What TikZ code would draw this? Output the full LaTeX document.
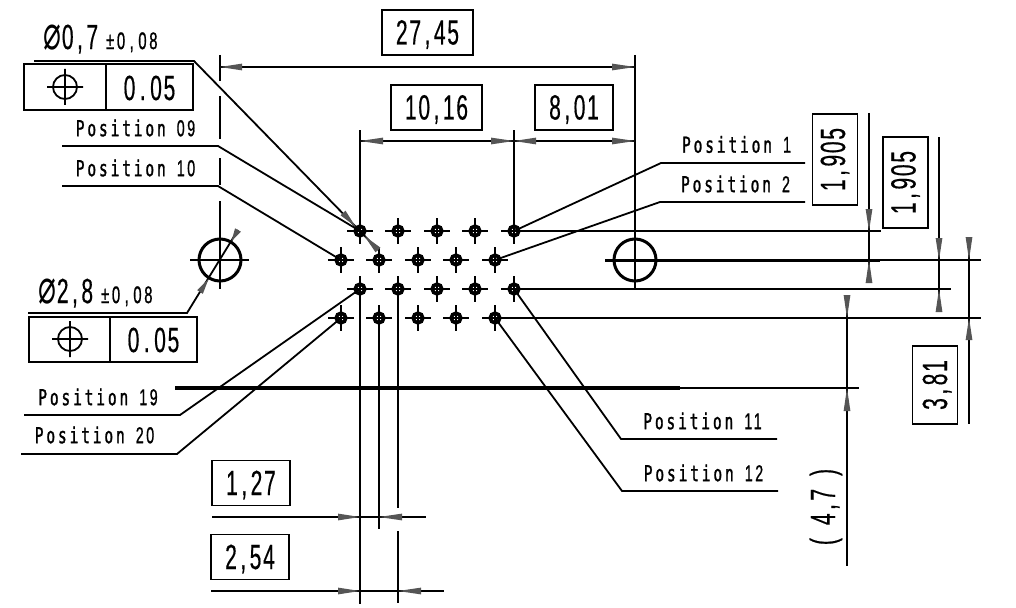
\documentclass[tikz,border=0pt]{standalone}
\usepackage{fontspec}
\usetikzlibrary{calc}
\setmainfont{Liberation Sans}
\newfontfamily\dimfont[FakeStretch=0.6,LetterSpace=5,FakeBold=0.4]{Liberation Sans}
\newfontfamily\monofnt[FakeStretch=0.66,LetterSpace=13,FakeBold=1.2]{DejaVu Sans Mono}
\newfontfamily\smfont[FakeStretch=0.62,LetterSpace=11,FakeBold=0.8]{Liberation Sans}
\newfontfamily\symfont[FakeStretch=0.62]{DejaVu Sans}
\newcommand\cmm{\hspace{3.5pt},\hspace{3.5pt}}
\newcommand\prd{\hspace{4.5pt}.\hspace{4.5pt}}
\newcommand\smcm{\hspace{2.5pt},\hspace{2.5pt}}
\newcommand\dimtxt[1]{{\dimfont\fontsize{35}{35}\selectfont #1}}
\newcommand\smtxt[1]{{\smfont\fontsize{23}{23}\selectfont #1}}
\newcommand\tolr{{\smfont\fontsize{24}{24}\selectfont ±0\hspace{4.5pt},\hspace{4.5pt}08}}
\newcommand\pos[1]{{\monofnt\fontsize{22}{22}\selectfont Position}\hspace{11pt}\smtxt{#1}}
\definecolor{tipgrey}{HTML}{555555}
\tikzset{
  x=1pt,y=-1pt,
  every node/.style={inner sep=0pt,outer sep=0pt},
  ln/.style={line width=1.8pt,black},
  framebox/.style={draw,line width=1.9pt,anchor=center,text height=24pt,text depth=0pt,align=center},
  dimbox/.style={framebox,minimum width=#1,minimum height=45pt},
  pinarm/.style={line width=1.7pt},
  pincirc/.style={line width=3.6pt},
}
\newcommand\wedgetip[2]{\fill[tipgrey] #1 -- ($#2!3.4pt!90:#1$) -- ($#2!3.4pt!-90:#1$) -- cycle;}
\newcommand\pin[3]{\coordinate (#1) at (#2,#3);
  \draw[pinarm] ($(#1)+(-13,0)$) -- ($(#1)+(13,0)$) ($(#1)+(0,-13)$) -- ($(#1)+(0,13)$);
  \draw[pincirc] (#1) circle[radius=4.8pt];}
\newcommand\possym[3]{\coordinate (#1) at (#2,#3);
  \draw[line width=1.8pt] (#1) circle[radius=12pt] ($(#1)+(-18,0)$) -- ($(#1)+(18,0)$) ($(#1)+(0,-18)$) -- ($(#1)+(0,18)$);}
\begin{document}
\begin{tikzpicture}
\useasboundingbox (0,0) rectangle (1016,607);
% datum lines
\draw[ln] (220,55) -- (220,81) (220,96) -- (220,139) (220,158) -- (220,185) (220,201) -- (220,289);
\draw[ln] (190,260) -- (249,260);
\draw[line width=3pt] (220,260) circle[radius=21pt];
\draw[ln] (635,55) -- (635,290);
\draw[line width=3pt] (635,260) circle[radius=21pt];
\draw[line width=3pt] (605,260) -- (880,260);
\draw[ln] (880,260) -- (981,260);
% extension lines
\draw[ln] (360,130) -- (360,231) (360,289) -- (360,604);
\draw[ln] (514,130) -- (514,231);
\draw[ln] (379,318) -- (379,529);
\draw[ln] (398,289) -- (398,508) (398,531) -- (398,603);
\draw[ln] (514,231) -- (881,231);
\draw[ln] (514,289) -- (951,289);
\draw[ln] (495,318) -- (981,318);
\draw[line width=3.2pt] (175,388) -- (680,388);
\draw[ln] (680,388) -- (859,388);
% pins
\foreach \n/\x/\y in {p1/360/231,p2/398/231,p3/437/231,p4/475/231,p5/514/231,
  q1/341/260,q2/379/260,q3/418/260,q4/456/260,q5/495/260,
  r1/360/289,r2/398/289,r3/437/289,r4/475/289,r5/514/289,
  s1/341/318,s2/379/318,s3/418/318,s4/456/318,s5/495/318}{\pin{\n}{\x}{\y}}
% horizontal dims
\draw[ln] (220,67) -- (635,67);
\wedgetip{(220,67)}{(242,67)} \wedgetip{(635,67)}{(612,67)}
\draw[ln] (360,141) -- (635,141);
\wedgetip{(360,141)}{(383,141)} \wedgetip{(514,141)}{(491,141)}
\wedgetip{(514,141)}{(536,141)} \wedgetip{(635,141)}{(612,141)}
\draw[ln] (212,517) -- (426,517);
\wedgetip{(360,517)}{(338,517)} \wedgetip{(379,517)}{(402,517)}
\draw[ln] (211,591) -- (444,591);
\wedgetip{(360,591)}{(338,591)} \wedgetip{(398,591)}{(421,591)}
% vertical dims
\draw[ln] (869,113) -- (869,283);
\wedgetip{(869,231)}{(869,209)} \wedgetip{(869,260)}{(869,283)}
\draw[ln] (939,137) -- (939,312);
\wedgetip{(939,260)}{(939,238)} \wedgetip{(939,289)}{(939,312)}
\draw[ln] (969,237) -- (969,424);
\wedgetip{(969,260)}{(969,237)} \wedgetip{(969,318)}{(969,340)}
\draw[ln] (847,295) -- (847,566);
\wedgetip{(847,318)}{(847,295)} \wedgetip{(847,388)}{(847,411)}
% dimension boxes
\node[dimbox=91pt] (d1) at (427.5,32.5) {\dimtxt{27\cmm 45}};
\node[dimbox=91pt] (d2) at (436.5,107.5) {\dimtxt{10\cmm 16}};
\node[dimbox=78pt] (d3) at (574,107.5) {\dimtxt{8\cmm 01}};
\node[dimbox=78pt] (d4) at (251,483) {\dimtxt{1\cmm 27}};
\node[dimbox=78pt] (d5) at (250,557) {\dimtxt{2\cmm 54}};
\node[dimbox=91pt,rotate=90] (d6) at (835,159.5) {\raisebox{2pt}{\dimtxt{1\cmm 905}}};
\node[dimbox=91pt,rotate=90] (d7) at (905.5,182.5) {\raisebox{2pt}{\dimtxt{1\cmm 905}}};
\node[dimbox=78pt,rotate=90] (d8) at (935,385) {\dimtxt{3\cmm 81}};
\node[rotate=90] (d9) at (826,507) {\dimtxt{(\hspace{13pt}4\cmm 7\hspace{13pt})}};
% tolerance frames
\draw[line width=1.9pt] (24,64) rectangle (193,110);
\draw[line width=1.9pt] (106,64) -- (106,110);
\possym{c1}{65}{87}
\node (t1) at (149.5,88) {\dimtxt{0\prd 05}};
\draw[line width=1.9pt] (29,317) rectangle (197,362);
\draw[line width=1.9pt] (110,317) -- (110,362);
\possym{c2}{70}{339}
\node (t2) at (153.5,340) {\dimtxt{0\prd 05}};
% leaders
\coordinate (a1) at (194,61); \coordinate (a2) at (343,213);
\draw[ln] (34,61) -- (a1) -- (p1);
\draw[ln] (p1) -- (378,250);
\wedgetip{(355.5,226.5)}{(343,213)} \wedgetip{(364.5,236)}{(378,250)}
\coordinate (b1) at (187,313);
\draw[ln] (28,313) -- (b1) -- (238,230);
\wedgetip{(231.5,241)}{(238,230)} \wedgetip{(208.5,279)}{(200,292)}
\draw[ln] (62,146) -- (218,146) -- (p1);
\draw[ln] (62,186) -- (218,186) -- (q1);
\draw[ln] (805,163) -- (661,163) -- (p5);
\draw[ln] (805,202) -- (660,202) -- (q5);
\draw[ln] (777,439) -- (621,439) -- (r5);
\draw[ln] (778,491) -- (622,491) -- (s5);
\draw[ln] (24,415) -- (180,415) -- (r1);
\draw[ln] (21,454) -- (177,454) -- (s1);
% position labels
\node (l1) at (135.5,128) {\pos{09}};
\node (l2) at (135.5,168) {\pos{10}};
\node (l3) at (736.5,144.5) {\pos{1}};
\node (l4) at (735.5,184) {\pos{2}};
\node (l5) at (702.5,421) {\pos{11}};
\node (l6) at (703.5,473) {\pos{12}};
\node (l7) at (98,397) {\pos{19}};
\node (l8) at (94.5,435) {\pos{20}};
% diameters
\node[anchor=west] (e1) at (43,39) {{\symfont\fontsize{48}{48}\selectfont ⌀}\hspace{1pt}\dimtxt{0\cmm 7}\hspace{8pt}\tolr};
\node[anchor=west] (e2) at (38,293) {{\symfont\fontsize{48}{48}\selectfont ⌀}\hspace{1pt}\dimtxt{2\cmm 8}\hspace{8pt}\tolr};
\end{tikzpicture}
\end{document}
